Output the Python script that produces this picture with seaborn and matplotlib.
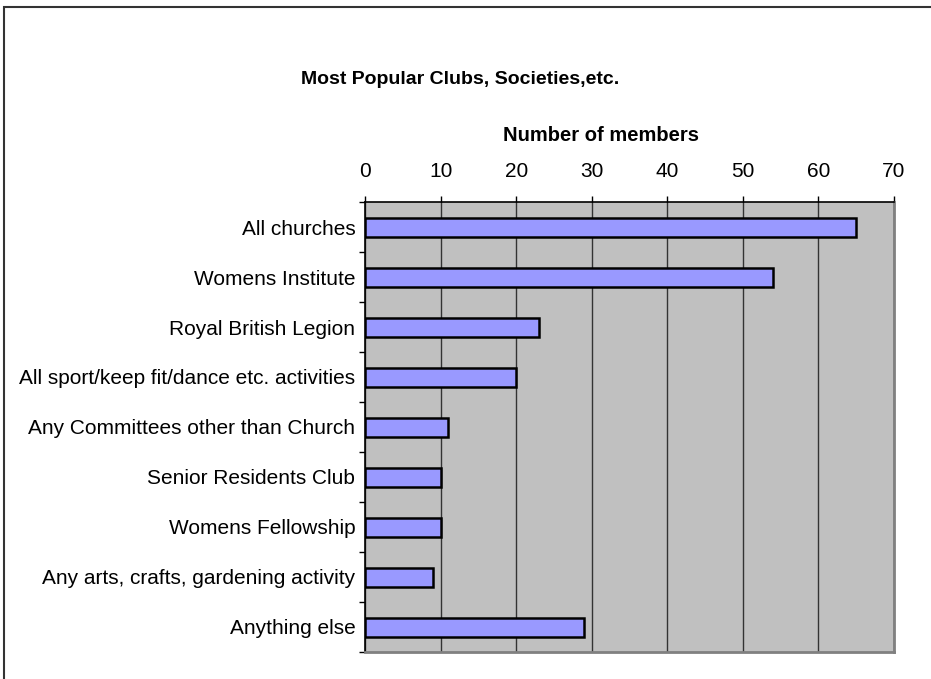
import matplotlib
matplotlib.use("Agg")
import matplotlib.pyplot as plt
import seaborn as sns
import pandas as pd
from matplotlib.patches import Rectangle
from matplotlib.ticker import FixedLocator

categories = [
    "All churches",
    "Womens Institute",
    "Royal British Legion",
    "All sport/keep fit/dance etc. activities",
    "Any Committees other than Church",
    "Senior Residents Club",
    "Womens Fellowship",
    "Any arts, crafts, gardening activity",
    "Anything else",
]
members = [65, 54, 23, 20, 11, 10, 10, 9, 29]
x_ticks = [0, 10, 20, 30, 40, 50, 60, 70]

title = "Most Popular Clubs, Societies,etc."
xlabel = "Number of members"

sns.set_style("white")
plt.rcParams["font.family"] = ["Liberation Sans", "DejaVu Sans"]
plt.rcParams["text.color"] = "black"
plt.rcParams["xtick.color"] = "black"
plt.rcParams["ytick.color"] = "black"
plt.rcParams["axes.labelcolor"] = "black"

df = pd.DataFrame({"category": categories, "members": members})

fig = plt.figure(figsize=(9.31, 6.79), dpi=100)
ax = fig.add_axes([365 / 931, 1 - 652 / 679, (894 - 365) / 931, (652 - 202) / 679])
ax.set_facecolor("#C0C0C0")

sns.barplot(data=df, x="members", y="category", orient="h", color="#9999FF",
            edgecolor="black", linewidth=1.8, width=0.38, saturation=1, ax=ax, zorder=3)

ax.set_xlim(0, 70)
ax.set_ylim(len(categories) - 0.5, -0.5)
ax.xaxis.tick_top()
ax.xaxis.set_label_position("top")
ax.set_xticks(x_ticks)
ax.set_xticklabels([str(t) for t in x_ticks], fontsize=15)
ax.tick_params(axis="x", direction="out", length=4, width=1, color="black", pad=11, top=True, bottom=False)
ax.set_xlabel(xlabel, fontsize=14.5, fontweight="bold")
ax.xaxis.set_label_coords((601 - 365) / (894 - 365), 1 + (202 - 135) / 450, transform=ax.transAxes)
ax.xaxis.label.set_va("center")
ax.set_ylabel("")

# y ticks: labels at centres, tick marks at boundaries
ax.tick_params(axis="y", which="major", length=0, pad=7, labelsize=15)
ax.yaxis.set_minor_locator(FixedLocator([i - 0.5 for i in range(len(categories) + 1)]))
ax.tick_params(axis="y", which="minor", length=4, width=1, color="black", direction="out", left=True)

ax.grid(True, axis="x", color="#333333", linewidth=1, zorder=0)
ax.grid(False, axis="y")
ax.set_axisbelow(True)

for side in ["top", "left"]:
    ax.spines[side].set_visible(True)
    ax.spines[side].set_color("black")
    ax.spines[side].set_linewidth(1.2)
for side in ["right", "bottom"]:
    ax.spines[side].set_visible(True)
    ax.spines[side].set_color("#808080")
    ax.spines[side].set_linewidth(2)

fig.text(460 / 931, 1 - 79 / 679, title, ha="center", va="center", fontsize=14, fontweight="bold")

fig.patches.append(Rectangle((4 / 931, -0.1), 1.2, 1 - 7 / 679 + 0.1, transform=fig.transFigure,
                             fill=False, edgecolor="#333333", linewidth=1.5))

fig.savefig("out.png", dpi=100)
